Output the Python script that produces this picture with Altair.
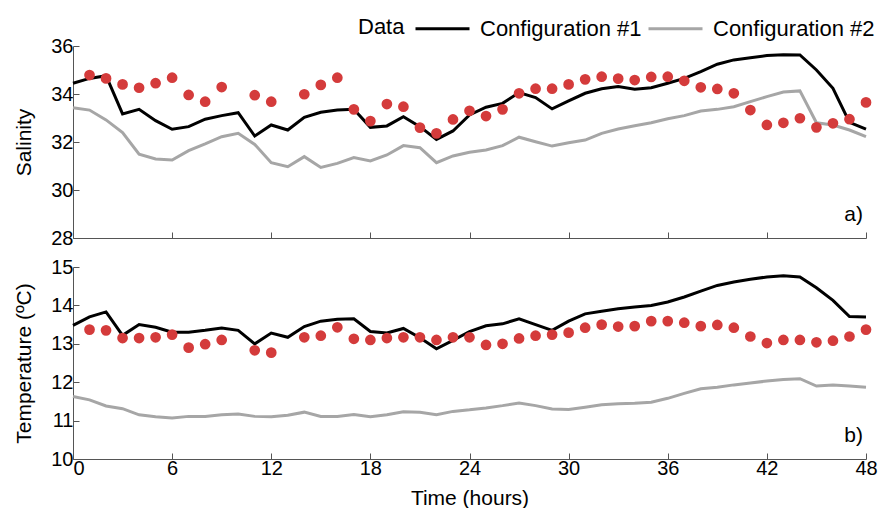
import altair as alt
import pandas as pd

# ---------------- data ----------------
hours_obs = [1, 2, 3, 4, 5, 6, 7, 8, 9, 11, 12, 14, 15, 16, 17, 18, 19, 20, 21, 22, 23, 24,
             25, 26, 27, 28, 29, 30, 31, 32, 33, 34, 35, 36, 37, 38, 39, 40, 41, 42, 43, 44,
             45, 46, 47, 48]
sal_obs = [34.79, 34.65, 34.40, 34.26, 34.45, 34.68, 33.96, 33.68, 34.29, 33.95, 33.68, 33.99,
           34.38, 34.68, 33.36, 32.87, 33.58, 33.47, 32.60, 32.36, 32.94, 33.30, 33.08, 33.36,
           34.03, 34.22, 34.22, 34.40, 34.61, 34.72, 34.64, 34.58, 34.71, 34.72, 34.55, 34.28,
           34.21, 34.03, 33.33, 32.71, 32.80, 32.99, 32.61, 32.78, 32.95, 33.65]
temp_obs = [13.37, 13.35, 13.15, 13.15, 13.17, 13.24, 12.90, 12.99, 13.10, 12.83, 12.77, 13.17,
            13.21, 13.43, 13.13, 13.10, 13.15, 13.17, 13.17, 13.10, 13.17, 13.17, 12.97, 13.00,
            13.14, 13.21, 13.24, 13.29, 13.42, 13.50, 13.45, 13.46, 13.59, 13.59, 13.55, 13.46,
            13.49, 13.42, 13.19, 13.02, 13.10, 13.10, 13.04, 13.08, 13.19, 13.37]

hours_model = list(range(0, 49))
sal_cfg1 = [34.45, 34.65, 34.76, 33.17, 33.36, 32.89, 32.53, 32.64, 32.95, 33.10, 33.22, 32.25,
            32.71, 32.50, 33.03, 33.24, 33.33, 33.36, 32.61, 32.67, 33.05, 32.64, 32.11, 32.46,
            33.13, 33.45, 33.61, 34.06, 33.85, 33.38, 33.71, 34.03, 34.22, 34.31, 34.20, 34.26,
            34.45, 34.65, 34.93, 35.24, 35.42, 35.51, 35.60, 35.64, 35.63, 35.00, 34.24, 32.82,
            32.54]
sal_cfg2 = [33.43, 33.33, 32.92, 32.39, 31.49, 31.29, 31.25, 31.64, 31.92, 32.22, 32.36, 31.90,
            31.14, 30.97, 31.39, 30.94, 31.11, 31.35, 31.21, 31.46, 31.85, 31.76, 31.14, 31.42,
            31.57, 31.67, 31.85, 32.20, 32.01, 31.83, 31.97, 32.08, 32.36, 32.54, 32.68, 32.80,
            32.97, 33.10, 33.29, 33.36, 33.47, 33.68, 33.89, 34.08, 34.13, 32.80, 32.71, 32.50,
            32.22]
temp_cfg1 = [13.48, 13.70, 13.83, 13.22, 13.50, 13.43, 13.30, 13.30, 13.35, 13.41, 13.35, 13.00,
             13.28, 13.17, 13.45, 13.59, 13.64, 13.65, 13.32, 13.28, 13.40, 13.16, 12.87, 13.09,
             13.32, 13.47, 13.52, 13.65, 13.50, 13.35, 13.59, 13.78, 13.85, 13.91, 13.96, 14.00,
             14.09, 14.22, 14.37, 14.52, 14.61, 14.68, 14.74, 14.77, 14.74, 14.46, 14.13, 13.71,
             13.70]
temp_cfg2 = [11.63, 11.54, 11.38, 11.31, 11.15, 11.10, 11.07, 11.11, 11.11, 11.15, 11.17, 11.11,
             11.10, 11.14, 11.22, 11.11, 11.11, 11.16, 11.10, 11.15, 11.23, 11.22, 11.15, 11.24,
             11.28, 11.33, 11.39, 11.46, 11.39, 11.30, 11.29, 11.35, 11.41, 11.44, 11.45, 11.48,
             11.58, 11.71, 11.83, 11.87, 11.93, 11.98, 12.03, 12.07, 12.09, 11.90, 11.93, 11.90,
             11.87]

series_names = ["Data", "Configuration #1", "Configuration #2"]
x_ticks = [0, 6, 12, 18, 24, 30, 36, 42, 48]
sal_ticks = [28, 30, 32, 34, 36]
temp_ticks = [10, 11, 12, 13, 14, 15]
panel_labels = ["a)", "b)"]

# ---------------- tables ----------------
obs = pd.DataFrame({"hour": hours_obs, "sal": sal_obs, "temp": temp_obs,
                    "series": series_names[0]})
model = pd.DataFrame({
    "hour": hours_model * 2,
    "sal": sal_cfg1 + sal_cfg2,
    "temp": temp_cfg1 + temp_cfg2,
    "series": [series_names[1]] * len(hours_model) + [series_names[2]] * len(hours_model),
})

FONT = "Liberation Sans, Arial, Helvetica, sans-serif"
RED = "#d43b3b"
GRAY = "#a6a6a6"
AXIS = "#555555"
W, H = 793, 192
TICK_IN = alt.ExprRef(expr="-6")
X_LABEL_ALIGN = {"condition": {"test": "datum.value == 0", "value": "left"}, "value": "center"}


def panel(field, ytitle, ydomain, yticks, label, bottom, legend):
    x = alt.X(
        "hour:Q",
        scale=alt.Scale(domain=[0, 48], nice=False),
        axis=alt.Axis(values=x_ticks, labels=bottom, title="Time (hours)" if bottom else None,
                      tickSize=TICK_IN, labelPadding=5, titlePadding=9, format="d",
                      labelFlush=False, labelAlign=X_LABEL_ALIGN),
    )
    y = alt.Y(
        f"{field}:Q",
        scale=alt.Scale(domain=ydomain, nice=False, zero=False),
        axis=alt.Axis(values=yticks, title=ytitle, tickSize=TICK_IN, labelPadding=6,
                      titlePadding=16, format="d"),
    )
    line_legend = alt.Legend(
        orient="none", legendX=341, legendY=-46, direction="horizontal", title=None,
        symbolType="stroke", symbolSize=2916, symbolStrokeWidth=3, labelOffset=9,
        columnPadding=0, labelFontSize=22, labelFont=FONT, labelLimit=400,
    ) if legend else None
    data_legend = alt.Legend(
        orient="none", legendX=263, legendY=-30, title=None, symbolSize=1,
        symbolOpacity=0, symbolStrokeWidth=0, labelOffset=0, labelFontSize=22,
        labelFont=FONT,
    ) if legend else None

    lines = alt.Chart(model).mark_line(strokeWidth=3).encode(
        x=x, y=y,
        color=alt.Color("series:N",
                        scale=alt.Scale(domain=series_names[1:], range=["#000000", GRAY]),
                        legend=line_legend),
    )
    dots = alt.Chart(obs).mark_circle(size=115, opacity=1).encode(
        x=x, y=y,
        color=alt.Color("series:N", scale=alt.Scale(domain=series_names[:1], range=[RED]),
                        legend=data_legend),
    )
    tag = alt.Chart(pd.DataFrame({"t": [label]})).mark_text(
        align="right", baseline="middle", fontSize=21, font=FONT, color="#000000"
    ).encode(text="t:N", x=alt.value(W - 3), y=alt.value(169))
    return alt.layer(lines, dots, tag).resolve_scale(color="independent").properties(
        width=W, height=H)


top = panel("sal", "Salinity", [28, 36], sal_ticks, panel_labels[0], False, True)
bottom = panel("temp", "Temperature (ºC)", [10, 15], temp_ticks, panel_labels[1], True, False)

chart = alt.vconcat(top, bottom, spacing=9).resolve_scale(color="independent").properties(
    padding={"left": 13, "top": 0, "right": 0, "bottom": 0},
    background="white",
).configure_view(stroke=None).configure_axis(
    grid=False, domainColor=AXIS, tickColor=AXIS, labelColor="#000000", titleColor="#000000",
    labelFont=FONT, titleFont=FONT, labelFontSize=20, titleFontSize=21, titleFontWeight="normal",
    domainWidth=1, tickWidth=1,
)

chart.save("out.html", embed_options={"renderer": "svg", "actions": False})
